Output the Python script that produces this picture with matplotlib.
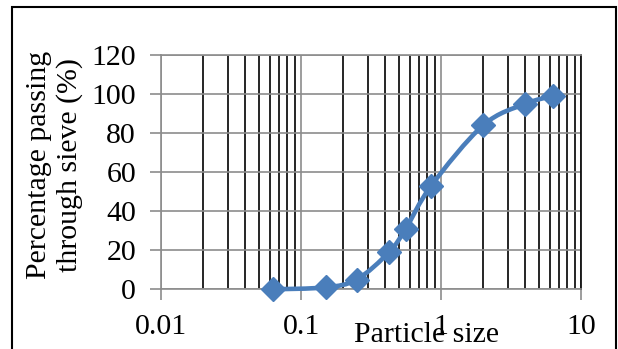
import matplotlib
matplotlib.use("Agg")
import matplotlib.pyplot as plt
import numpy as np
from matplotlib.path import Path
from matplotlib.patches import PathPatch, Rectangle
from matplotlib.ticker import LogLocator, NullFormatter, FixedLocator

plt.rcParams['font.family'] = ['Liberation Serif', 'DejaVu Serif']

sieve_size = [0.063, 0.15, 0.25, 0.425, 0.56, 0.85, 2.0, 4.0, 6.3]
passing = [0, 1, 5, 19, 31, 53, 84, 95, 99]
x_ticks = [0.01, 0.1, 1, 10]
x_tick_labels = ["0.01", "0.1", "1", "10"]
y_ticks = [0, 20, 40, 60, 80, 100, 120]

blue = '#4a7ebb'
gray = '#8c8c8c'
fs = 21.5


def smooth_path(xs, ys):
    # catmull-rom style bezier in log-x space, like excel's smoothed line
    lx = np.log10(xs)
    pts = np.column_stack([lx, ys])
    n = len(pts)
    verts = [pts[0]]
    codes = [Path.MOVETO]
    for i in range(n - 1):
        p0 = pts[i - 1] if i > 0 else pts[i]
        p1 = pts[i]
        p2 = pts[i + 1]
        p3 = pts[i + 2] if i + 2 < n else pts[i + 1]
        c1 = p1 + (p2 - p0) / 6.0
        c2 = p2 - (p3 - p1) / 6.0
        verts += [c1, c2, p2]
        codes += [Path.CURVE4] * 3
    verts = np.array(verts)
    verts[:, 0] = 10 ** verts[:, 0]
    return Path(verts, codes)


fig = plt.figure(figsize=(6.18, 3.49), dpi=100)
ax = fig.add_axes([161 / 618, 1 - 289.3 / 349, 420 / 618, 234.3 / 349])

ax.set_xscale('log')
ax.set_xlim(0.01, 10)
ax.set_ylim(0, 120)

ax.xaxis.set_major_locator(FixedLocator(x_ticks))
ax.set_xticklabels(x_tick_labels)
ax.xaxis.set_minor_locator(LogLocator(base=10, subs=np.arange(2, 10)))
ax.xaxis.set_minor_formatter(NullFormatter())
ax.set_yticks(y_ticks)

ax.grid(True, which='major', axis='both', color=gray, lw=1.2, zorder=1)
ax.grid(True, which='minor', axis='x', color='black', lw=1.2, zorder=1)
ax.set_axisbelow(True)

ax.tick_params(axis='both', which='major', direction='out', length=8,
               width=1.2, color=gray, labelsize=fs, pad=10)
ax.tick_params(axis='x', which='minor', length=0)

for side in ['left', 'bottom', 'top']:
    ax.spines[side].set_color(gray)
    ax.spines[side].set_linewidth(1.2)
ax.spines['right'].set_color('black')
ax.spines['right'].set_linewidth(1.2)

ax.add_patch(PathPatch(smooth_path(sieve_size, passing), fill=False,
                       edgecolor=blue, lw=3.3, zorder=3, clip_on=False))
ax.plot(sieve_size, passing, linestyle='none', marker='D', markersize=12.5,
        color=blue, zorder=4, clip_on=False)

fig.text(427 / 618, 1 - 342 / 349, "Particle size", fontsize=fs,
         ha='center', va='baseline')
fig.text(54.5 / 618, 1 - 165 / 349, "Percentage passing\nthrough sieve (%)",
         fontsize=fs, rotation=90, ha='center', va='center',
         multialignment='center', linespacing=1.15)

fig.patches.append(Rectangle((12 / 618, -0.05), 604 / 618, 1.05 - 7 / 349,
                             transform=fig.transFigure, fill=False,
                             edgecolor='black', lw=1.5))

fig.savefig("out.png", dpi=100)
